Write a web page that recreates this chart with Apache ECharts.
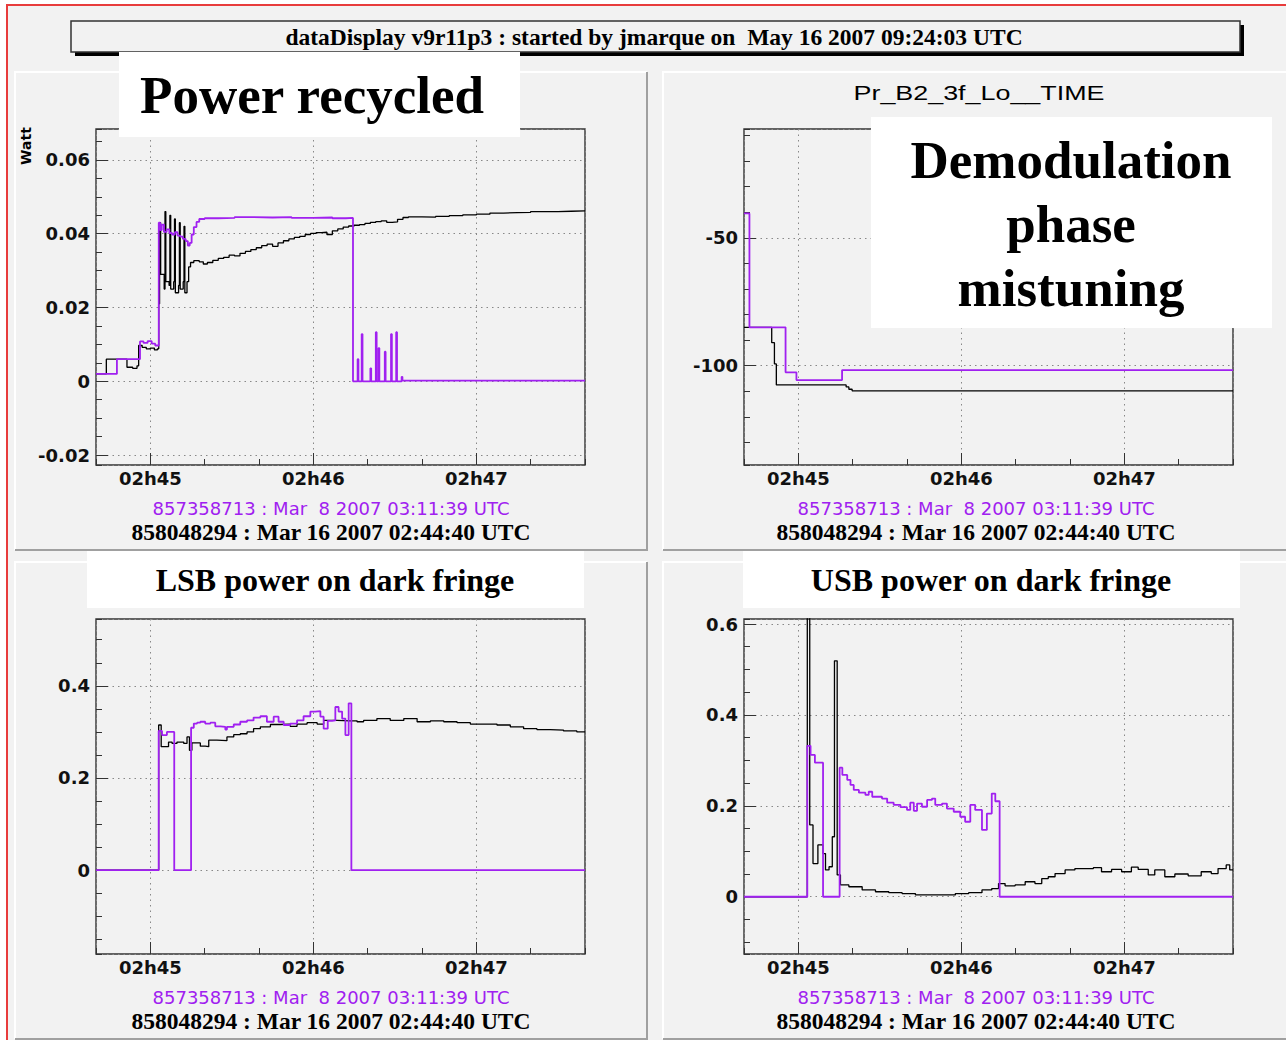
<!DOCTYPE html>
<html>
<head>
<meta charset="utf-8">
<title>dataDisplay</title>
<script src="https://cdn.jsdelivr.net/npm/echarts@6/dist/echarts.min.js"></script>
<style>
  html, body { margin: 0; padding: 0; background: #fff; }
  #main { width: 1286px; height: 1040px; }
</style>
</head>
<body>
<div id="main"></div>
<script>
// time axis: seconds relative to 02h45:00 (window 02:44:40 .. 02:47:40)
const xTickLabels = ['02h45', '02h46', '02h47'];

// Power recycled (Watt)
const tlBlack = [[-20,0.002],[-16.2,0.006],[-8.6,0.0038],[-6.5,0.0035],[-4.9,0.0042],[-4.3,0.0097],[-3,0.0092],[-1.5,0.0088],[0,0.009],[1.5,0.0085],[2.6,0.0088],
  [3.1,0.021],[3.4,0.043],[3.8,0.029],[5.1,0.025],[5.4,0.046],[5.7,0.027],[6.9,0.026],[7.2,0.045],[7.5,0.025],[8.6,0.027],[8.9,0.044],[9.2,0.024],
  [10.4,0.026],[10.7,0.043],[11.0,0.025],[12.1,0.027],[12.4,0.042],[12.7,0.024],[13.5,0.027],[14.1,0.031],[14.8,0.0322],[16,0.0327],[18,0.0324],
  [19.5,0.0318],[21,0.0322],[23,0.0328],[25,0.0333],[27,0.0336],[29,0.0342],[31,0.034],[33,0.0347],[35,0.0352],[37,0.0357],[39,0.0362],[41,0.0368],[43,0.0372],
  [45,0.0366],[47,0.0375],[49,0.0381],[51,0.0386],[53,0.039],[55,0.0393],[57,0.0398],[59,0.0401],[61,0.0403],[63,0.0404],[65,0.0398],[67,0.0408],[69,0.0413],
  [71,0.0418],[73,0.0421],[75,0.0423],[77,0.0425],[79,0.0428],[81,0.0431],[83,0.0433],[85,0.0435],[87,0.0431],[89,0.0432],[91,0.0439],[93,0.0444],[95,0.0446],
  [100,0.0445],[105,0.0447],[110,0.0449],[115,0.0451],[120,0.0453],[125,0.0456],[130,0.0457],[135,0.0458],[140,0.046],[145,0.046],[150,0.0461],[155,0.0462],[160,0.0463]];
const tlPurple = [[-20,0.002],[-12.3,0.006],[-3.8,0.0108],[-2.5,0.0104],[-1,0.0109],[0.5,0.0102],[1.8,0.0097],[3.1,0.043],[3.6,0.041],[4.2,0.0425],[5,0.0405],
  [6,0.0412],[7,0.0402],[8,0.0398],[9,0.0404],[10,0.0395],[11,0.0392],[12,0.0386],[13,0.038],[13.8,0.0368],[14.5,0.0375],[15.2,0.0398],[16,0.0418],[17,0.0432],
  [18,0.044],[20,0.0442],[25,0.0443],[31,0.0445],[38,0.0444],[45,0.0445],[52,0.0443],[60,0.0444],[67,0.0442],[72,0.0443],[74.6,0],[76.3,0.006],[76.6,0],
  [77.8,0.0128],[78.1,0],[81,0.0035],[81.3,0],[83,0.0133],[83.3,0],[84,0.009],[84.3,0],[86.3,0.008],[86.6,0],[88.6,0.0128],[88.9,0],[90.5,0.0133],[90.8,0],
  [92.5,0.0012],[92.8,0.0002],[160,0.0002]];

// Pr_B2_3f_Lo__TIME
const trBlack = [[-20,-85],[-9.8,-91],[-8.8,-99.3],[-8.1,-107.5],[17.6,-108.3],[18.6,-109.2],[19.8,-109.8],[160,-109.8]];
const trPurple = [[-20,-40.5],[-18.0,-85],[-4.7,-102.6],[-0.7,-105.6],[16.1,-101.7],[160,-101.7]];

// LSB power on dark fringe
const blBlack = [[-20,0],[3.07,0.315],[4.0,0.268],[6.7,0.278],[8.0,0.275],[9.8,0.278],[12.3,0.275],[13.5,0.289],[14.4,0.26],[15.3,0.276],[18.4,0.269],[20.2,0.268],
  [21.5,0.282],[24.5,0.281],[28.2,0.289],[30.7,0.294],[33.1,0.296],[35.6,0.3],[38.0,0.307],[40.5,0.311],[44.2,0.316],[47.9,0.317],[51.5,0.312],[54.0,0.317],
  [57.7,0.32],[61.4,0.317],[63.8,0.325],[68.7,0.324],[73.6,0.324],[76.1,0.322],[78.5,0.325],[83.4,0.329],[88.3,0.325],[93.3,0.329],[98.2,0.322],[103.1,0.324],
  [108.0,0.322],[112.9,0.32],[117.8,0.317],[122.7,0.317],[127.6,0.315],[132.5,0.311],[137.4,0.307],[142.3,0.305],[147.2,0.304],[152.1,0.302],[157.0,0.3],[160,0.3]];
const blPurple = [[-20,0],[3.07,0.302],[4.3,0.293],[6.1,0.3],[8.8,0],[15.0,0.309],[16.0,0.318],[17.2,0.32],[18.4,0.322],[20.2,0.318],[22.1,0.32],[23.9,0.312],
  [25.8,0.311],[27.6,0.305],[28.2,0.311],[30.7,0.316],[33.1,0.322],[35.6,0.325],[38.0,0.331],[40.5,0.334],[42.9,0.322],[45.4,0.333],[47.2,0.322],[49.1,0.315],
  [51.5,0.318],[54.0,0.325],[56.4,0.334],[58.9,0.344],[60.7,0.345],[62.6,0.333],[63.8,0.307],[65.3,0.324],[66.9,0.325],[68.1,0.354],[69.3,0.344],[70.6,0.329],
  [71.8,0.293],[73.0,0.362],[74.0,0],[160,0]];

// USB power on dark fringe
const brBlack = [[-20,0],[3.3,0.65],[4.2,0.158],[5.4,0.073],[7.2,0.114],[9.1,0.095],[10.0,0.059],[11.3,0.066],[12.5,0.132],[13.3,0.519],[14.3,0.048],[15.5,0.026],
  [18.6,0.022],[23.5,0.015],[28.4,0.011],[33.3,0.009],[38.2,0.007],[43.1,0.004],[48.0,0.004],[52.9,0.004],[57.8,0.007],[62.7,0.009],[67.6,0.015],[71.2,0.018],
  [73.7,0.029],[76.1,0.024],[79.8,0.026],[83.5,0.033],[87.1,0.029],[89.6,0.04],[92.0,0.044],[94.5,0.051],[98.2,0.059],[101.8,0.062],[105.5,0.062],[108.6,0.064],
  [111.6,0.055],[115.3,0.06],[119.0,0.055],[122.6,0.065],[125.1,0.06],[128.8,0.048],[131.2,0.059],[134.9,0.044],[138.6,0.05],[143.5,0.046],[148.3,0.055],
  [152.0,0.051],[154.5,0.062],[157.5,0.07],[158.8,0.059],[160,0.059]];
const brPurple = [[-20,0],[3.3,0.332],[4.5,0.312],[6.1,0.295],[9.1,0],[15.2,0.284],[16.2,0.268],[18.0,0.257],[19.2,0.246],[20.4,0.235],[22.3,0.229],[24.7,0.224],
  [25.9,0.231],[27.2,0.22],[30.8,0.216],[32.7,0.207],[35.1,0.202],[37.6,0.197],[40.0,0.191],[41.2,0.207],[42.5,0.189],[43.7,0.205],[45.5,0.198],[47.4,0.213],
  [49.2,0.216],[50.4,0.202],[52.9,0.205],[54.7,0.194],[57.2,0.187],[59.6,0.176],[61.4,0.165],[63.3,0.202],[65.1,0.191],[67.6,0.147],[69.4,0.183],[71.2,0.227],
  [72.5,0.21],[74.1,0],[160,0]];

// y ranges / steps per panel: [min, max, major, minor]
const yTL = [-0.0227, 0.0684, 0.02, 0.005];
const yTR = [-138.8, -7.5, 50, 10];
const yBL = [-0.182, 0.545, 0.2, 0.05];
const yBR = [-0.126, 0.611, 0.2, 0.05];

const PURPLE = '#a020f0';
const SANS = 'DejaVu Sans';
const SERIF = 'Liberation Serif';

const chart = echarts.init(document.getElementById('main'), null, { renderer: 'svg' });

const grids = [
  { left: 96, top: 129, width: 489, height: 336 },
  { left: 744, top: 129, width: 489, height: 336 },
  { left: 96, top: 619, width: 489, height: 335 },
  { left: 744, top: 619, width: 489, height: 335 }
].map(g => Object.assign({ show: true, backgroundColor: 'transparent', borderColor: '#333', borderWidth: 1.4 }, g));

function onStep(v, step) {
  const k = Math.round(v / step);
  return Math.abs(v - k * step) < step * 1e-6 ? k : null;
}

const tickStyle = { color: '#333', width: 1 };
const gridLine = { show: true, lineStyle: { color: '#888', width: 1, type: [1.5, 4] } };

const xAxes = [], yAxes = [];
[yTL, yTR, yBL, yBR].forEach((yr, gi) => {
  xAxes.push({
    type: 'value', gridIndex: gi, position: 'bottom', min: -20, max: 160,
    splitNumber: 3, minInterval: 60, maxInterval: 60,
    axisLine: { show: false, onZero: false },
    axisTick: { inside: true, length: 12, lineStyle: tickStyle },
    axisLabel: {
      showMinLabel: false, showMaxLabel: false, margin: 4,
      fontFamily: SANS, fontWeight: 'bold', fontSize: 18, color: '#111',
      formatter: v => { const k = onStep(v, 60); return k == null ? '' : (xTickLabels[k] || ''); }
    },
    splitLine: gridLine
  });
  xAxes.push({
    type: 'value', gridIndex: gi, position: 'bottom', min: -20, max: 160, interval: 20,
    axisLine: { show: false, onZero: false },
    axisTick: { inside: true, length: 6, lineStyle: tickStyle },
    axisLabel: { show: false }, splitLine: { show: false }
  });
  yAxes.push({
    type: 'value', gridIndex: gi, position: 'left', min: yr[0], max: yr[1],
    splitNumber: 4, minInterval: yr[2], maxInterval: yr[2],
    axisLine: { show: false, onZero: false },
    axisTick: { inside: true, length: 12, lineStyle: tickStyle },
    axisLabel: {
      showMinLabel: false, showMaxLabel: false, margin: 6,
      fontFamily: SANS, fontWeight: 'bold', fontSize: 18, color: '#111',
      formatter: v => { const k = onStep(v, yr[2]); return k == null ? '' : String(+(k * yr[2]).toFixed(4)); }
    },
    splitLine: gridLine
  });
  yAxes.push({
    type: 'value', gridIndex: gi, position: 'left', min: yr[0], max: yr[1],
    splitNumber: 10, minInterval: yr[3], maxInterval: yr[3],
    axisLine: { show: false, onZero: false },
    axisTick: { inside: true, length: 6, lineStyle: tickStyle },
    axisLabel: { show: false }, splitLine: { show: false }
  });
});

const series = [];
[[tlBlack, tlPurple], [trBlack, trPurple], [blBlack, blPurple], [brBlack, brPurple]].forEach((pair, gi) => {
  series.push({
    type: 'line', xAxisIndex: 2 * gi, yAxisIndex: 2 * gi, data: pair[0], step: 'end',
    showSymbol: false, symbol: 'none', clip: true, z: 3,
    lineStyle: { color: '#000', width: 1.3 }
  });
  series.push({
    type: 'line', xAxisIndex: 2 * gi, yAxisIndex: 2 * gi, data: pair[1], step: 'end',
    showSymbol: false, symbol: 'none', clip: true, z: 4,
    lineStyle: { color: PURPLE, width: 1.8 }
  });
});

// panel frames with bevel
function panel(x1, y1, x2, y2) {
  return [
    { type: 'polyline', z: -5, shape: { points: [[x1, y2], [x1, y1], [x2, y1]] }, style: { stroke: '#fff', lineWidth: 2, fill: null } },
    { type: 'polyline', z: -5, shape: { points: [[x1, y2], [x2, y2], [x2, y1]] }, style: { stroke: '#a0a0a0', lineWidth: 2, fill: null } }
  ];
}
function txt(x, y, text, font, fill, extra) {
  return Object.assign({
    type: 'text', z: 60, x: x, y: y,
    style: { text: text, font: font, fill: fill || '#000', align: 'center', verticalAlign: 'middle' }
  }, extra || {});
}
function whiteBox(x, y, w, h) {
  return { type: 'rect', z: 50, shape: { x: x, y: y, width: w, height: h }, style: { fill: '#fff' } };
}

const purpleInfo = '857358713 : Mar  8 2007 03:11:39 UTC';
const blackInfo = '858048294 : Mar 16 2007 02:44:40 UTC';

const graphics = [
  { type: 'rect', z: -10, shape: { x: 7, y: 5, width: 1300, height: 1060 }, style: { fill: '#f2f2f2', stroke: '#e83c3c', lineWidth: 2 } },
  // title bar
  { type: 'rect', z: -4, shape: { x: 75, y: 25, width: 1169, height: 31 }, style: { fill: '#000' } },
  { type: 'rect', z: -3, shape: { x: 71, y: 21, width: 1169, height: 31 }, style: { fill: '#f2f2f2', stroke: '#333', lineWidth: 1.5 } },
  txt(654, 37, 'dataDisplay v9r11p3 : started by jmarque on  May 16 2007 09:24:03 UTC', 'bold 23.5px "' + SERIF + '"', '#000', { z: -2 }),
  ...panel(15, 72, 647, 550),
  ...panel(663, 72, 1290, 550),
  ...panel(15, 562, 647, 1039),
  ...panel(663, 562, 1290, 1039),
  // top-right histogram title
  txt(979, 93, 'Pr_B2_3f_Lo__TIME', '21px "Liberation Sans"', '#000', { z: 5, scaleX: 1.28 }),
  // y unit
  txt(26, 146, 'Watt', 'bold 14px "' + SANS + '"', '#000', { z: 5, rotation: Math.PI / 2 }),
  // overlay labels
  whiteBox(119, 52, 401, 85),
  txt(312, 95, 'Power recycled', 'bold 53px "' + SERIF + '"'),
  whiteBox(871, 117, 401, 211),
  txt(1071, 160, 'Demodulation', 'bold 53px "' + SERIF + '"'),
  txt(1071, 224, 'phase', 'bold 53px "' + SERIF + '"'),
  txt(1071, 288, 'mistuning', 'bold 53px "' + SERIF + '"'),
  whiteBox(87, 551, 497, 57),
  txt(335, 580, 'LSB power on dark fringe', 'bold 32px "' + SERIF + '"'),
  whiteBox(743, 551, 497, 57),
  txt(991, 580, 'USB power on dark fringe', 'bold 32px "' + SERIF + '"')
];
// time stamps under each pad
[[331, 465], [976, 465], [331, 954], [976, 954]].forEach(p => {
  graphics.push(txt(p[0], p[1] + 43, purpleInfo, '18px "' + SANS + '"', PURPLE, { z: 5 }));
  graphics.push(txt(p[0], p[1] + 67, blackInfo, 'bold 23.5px "' + SERIF + '"', '#000', { z: 5 }));
});

chart.setOption({
  backgroundColor: '#fff',
  animation: false,
  grid: grids,
  xAxis: xAxes,
  yAxis: yAxes,
  series: series,
  graphic: { elements: graphics }
});
</script>
</body>
</html>
